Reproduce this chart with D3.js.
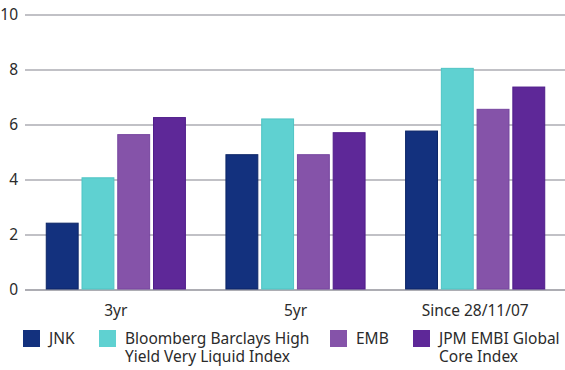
<!DOCTYPE html>
<html>
<head>
<meta charset="utf-8">
<script src="https://cdn.jsdelivr.net/npm/d3@7.9.0/dist/d3.min.js"></script>
<style>
  body { margin: 0; background: #fff; }
  svg { display: block; font-family: 'Noto Sans', sans-serif; }
</style>
</head>
<body>
<svg width="565" height="370"></svg>
<script>
// Periods on the x axis
const periods = ['3yr', '5yr', 'Since 28/11/07'];

// Series names (line breaks as in the legend)
const seriesNames = ['JNK', 'Bloomberg Barclays High\nYield Very Liquid Index', 'EMB', 'JPM EMBI Global\nCore Index'];
const seriesColors = ['#13317e', '#5fd1d1', '#8553a9', '#5e2898'];
const seriesStroke = ['#0c2566', '#4fc4c4', '#7645a0', '#4f1d8a'];

// Values per series, one per period
const jnk = [2.43, 4.92, 5.78];
const bbhy = [4.08, 6.22, 8.06];
const emb = [5.65, 4.92, 6.57];
const jpm = [6.27, 5.72, 7.38];
const series = [jnk, bbhy, emb, jpm];

const yTicks = [0, 2, 4, 6, 8, 10];

const FONT = 15.5;

// legend item left edges
const legendX = [23, 99, 330, 413];

const svg = d3.select('svg');
const width = 565;

const x0 = d3.scaleBand().domain(periods).range([26, 565]).paddingInner(0.22).paddingOuter(0.11);
const x1 = d3.scaleBand().domain(d3.range(series.length)).range([0, x0.bandwidth()]).paddingInner(0.08);
const y = d3.scaleLinear().domain([0, 10]).range([290, 15]);

// Gridlines
svg.append('g')
  .selectAll('line')
  .data(yTicks)
  .join('line')
  .attr('x1', 25)
  .attr('x2', width)
  .attr('y1', (d) => y(d))
  .attr('y2', (d) => y(d))
  .attr('stroke', '#adadb3')
  .attr('stroke-width', (d) => (d === 0 ? 2 : 1.3));

// Y labels
svg.append('g')
  .selectAll('text')
  .data(yTicks)
  .join('text')
  .attr('x', 18)
  .attr('y', (d) => y(d))
  .attr('dy', '0.35em')
  .attr('text-anchor', 'end')
  .attr('font-size', FONT)
  .attr('fill', '#2b2b2b')
  .text((d) => d);

// Bars
const groups = svg.append('g')
  .selectAll('g')
  .data(periods)
  .join('g')
  .attr('transform', (d) => `translate(${x0(d)},0)`);

groups.selectAll('rect')
  .data((p, pi) => series.map((s, si) => ({ si, value: s[pi] })))
  .join('rect')
  .attr('x', (d) => x1(d.si) + 0.5)
  .attr('width', x1.bandwidth() - 1)
  .attr('y', (d) => y(d.value))
  .attr('height', (d) => y(0) - y(d.value) - 1)
  .attr('fill', (d) => seriesColors[d.si])
  .attr('stroke', (d) => seriesStroke[d.si])
  .attr('stroke-width', 1);

// Category labels
svg.append('g')
  .selectAll('text')
  .data(periods)
  .join('text')
  .attr('x', (d) => x0(d) + x0.bandwidth() / 2)
  .attr('y', 316)
  .attr('text-anchor', 'middle')
  .attr('font-size', FONT)
  .attr('fill', '#2b2b2b')
  .text((d) => d);

// Legend
const legend = svg.append('g');
seriesNames.forEach((name, i) => {
  const item = legend.append('g').attr('transform', `translate(${legendX[i]},330)`);
  item.append('rect')
    .attr('width', 17)
    .attr('height', 17)
    .attr('fill', seriesColors[i]);
  const t = item.append('text')
    .attr('x', 26)
    .attr('y', 14)
    .attr('font-size', FONT)
    .attr('fill', '#2b2b2b');
  name.split('\n').forEach((line, li) => {
    t.append('tspan').attr('x', 26).attr('dy', li === 0 ? 0 : 17.7).text(line);
  });
});
</script>
</body>
</html>
